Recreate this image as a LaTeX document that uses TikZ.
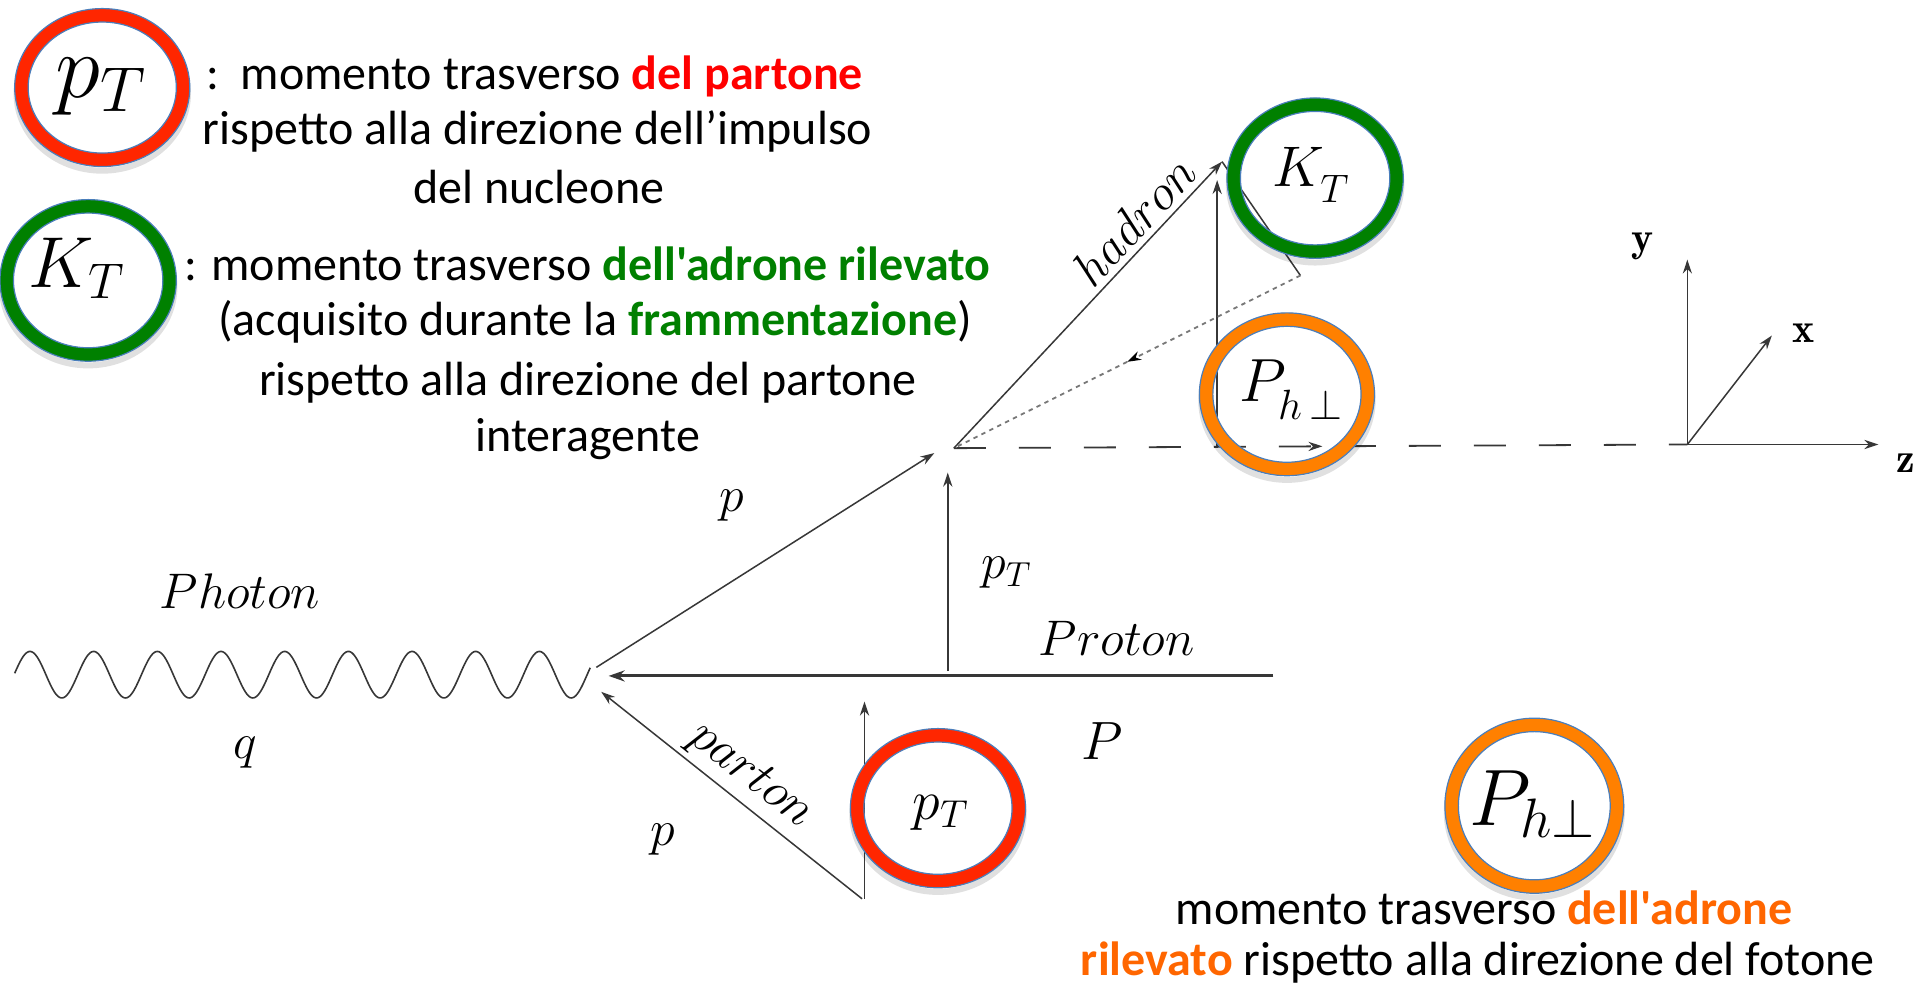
\documentclass[tikz,border=0pt]{standalone}
\usepackage{graphicx}
\usepackage{fontspec}
\newfontfamily\calib{Carlito}
\usetikzlibrary{arrows.meta,decorations.markings}
\definecolor{linecol}{RGB}{55,55,55}
\definecolor{ringred}{RGB}{255,38,0}
\definecolor{ringgreen}{RGB}{0,128,0}
\definecolor{ringorange}{RGB}{255,128,0}
\definecolor{txtred}{RGB}{255,0,0}
\definecolor{txtgreen}{RGB}{0,128,0}
\definecolor{txtorange}{RGB}{255,102,0}
\definecolor{ringblue}{RGB}{74,126,187}
\definecolor{dotcol}{RGB}{120,120,120}
\tikzset{
  ln/.style={draw=linecol, line width=0.75pt},
  arr/.style={ln, -{Stealth[length=7pt,width=4.6pt]}},
  thickarr/.style={draw=linecol, line width=1.5pt, -{Stealth[length=8pt,width=5.5pt]}},
  wave/.style={draw=linecol, line width=0.8pt},
  dashedline/.style={draw=linecol, line width=0.9pt, dash pattern=on 16pt off 16.5pt},
  dotline/.style={draw=dotcol, line width=0.9pt, dash pattern=on 2.2pt off 2.2pt},
  txt/.style={inner sep=0pt, font=\calib\fontsize{24}{28}\selectfont},
  lab/.style={inner sep=0pt},
  ringblueline/.style={draw=ringblue, line width=0.6pt},
  ringshadow/.style={draw=black, opacity=0.12, line width=3pt},
}
\newcommand\mm[2]{\scalebox{#1}{\fontsize{20.74}{24}\selectfont$#2$}}
\newcommand\lsub[1]{_{\lower3pt\hbox{$\scriptstyle #1$}}}
\newcommand\myring[4]{%
  \draw[ringshadow] ([yshift=-3pt]#1) ellipse [x radius=#2-1.5, y radius=#3-1.5];
  \draw[line width=6.73pt, draw=#4] (#1) ellipse [x radius=#2-5.5, y radius=#3-5.5];
  \draw[ringblueline] (#1) ellipse [x radius=#2, y radius=#3];
  \draw[ringblueline] (#1) ellipse [x radius=#2-11, y radius=#3-11];
}
\begin{document}
\begin{tikzpicture}[x=0.61225pt, y=-0.61225pt]
\useasboundingbox (0,0) rectangle (1568,807.7);
\fill[white] (0,0) rectangle (1568,807.7);

% key points
\coordinate (V) at (487,550);
\coordinate (PRs) at (1040,552);
\coordinate (PRe) at (497,552);
\coordinate (PAs) at (704,734);
\coordinate (PAe) at (491,565);
\coordinate (PTs) at (706,734);
\coordinate (PTe) at (706,573);
\coordinate (Ps) at (487,545);
\coordinate (Pe) at (763,370);
\coordinate (U) at (779,366);
\coordinate (VTs) at (774,548);
\coordinate (VTe) at (774,386);
\coordinate (Ht) at (998,132);
\coordinate (KTb) at (994,366);
\coordinate (KTt) at (994,147);
\coordinate (D) at (1062,225);
\coordinate (O) at (1378,363);
\coordinate (Ay) at (1378,212);
\coordinate (Az) at (1534,363);
\coordinate (Ax) at (1447,274);

% photon
\draw[wave] plot[domain=12:482, samples=400] (\x, {551 - 19*cos(6.9231*(\x-24.5))});

% proton
\draw[thickarr] (PRs) -- (PRe);
% parton and its transverse part
\draw[arr] (PAs) -- (PAe);
\draw[arr] (PTs) -- (PTe);
% outgoing parton p
\draw[arr] (Ps) -- (Pe);
\draw[arr] (VTs) -- (VTe);
% hadron
\draw[arr] (U) -- (Ht);
\draw[arr] (KTb) -- (KTt);
\draw[ln] (D) -- (Ht);
\draw[dotline, postaction={decorate}, decoration={markings, mark=at position 0.5 with {\arrow[draw=black,fill=black,line width=0.6pt]{Stealth[length=7pt,width=4.6pt]}}}] (D) -- (U);
\draw[dashedline, postaction={decorate}, decoration={markings, mark=at position 0.5025 with {\arrow[line width=0.6pt]{Stealth[length=7pt,width=4.6pt]}}}] (U) -- (O);

% axes
\draw[arr] (O) -- (Ay);
\draw[arr] (O) -- (Az);
\draw[arr] (O) -- (Ax);
\node[lab] (ly) at (1341,201) {\mm{1.01}{\mathbf{y}}};
\node[lab] (lx) at (1473,272) {\mm{1.01}{\mathbf{x}}};
\node[lab] (lz) at (1556,378) {\mm{1.01}{\mathbf{z}}};

% diagram labels
\node[lab] (lphoton) at (196,483) {\mm{1.205}{Photon}};
\node[lab] (lq) at (200,615) {\mm{1.205}{q}};
\node[lab] (lproton) at (912,521) {\mm{1.205}{Proton}};
\node[lab] (lP) at (900,605) {\mm{1.3}{P}};
\node[lab] (lp1) at (598,413) {\mm{1.205}{p}};
\node[lab] (lpt) at (822,468) {\mm{1.205}{p_T}};
\node[lab] (lp2) at (541,686) {\mm{1.205}{p}};
\node[lab, rotate=-38] (lparton) at (613,634) {\mm{1.205}{parton}};
\node[lab, rotate=47] (lhadron) at (926,180) {\mm{1.205}{hadron}};

% rings
\coordinate (c1) at (83.5,71.5);
\coordinate (c2) at (72,229);
\coordinate (c3) at (1074,145.5);
\coordinate (c4) at (1051,322);
\coordinate (c5) at (766,660);
\coordinate (c6) at (1253,658);
\myring{c1}{71.5}{64.5}{ringred}
\myring{c2}{72}{66}{ringgreen}
\myring{c3}{72}{65.5}{ringgreen}
\myring{c4}{71.5}{66.5}{ringorange}
\myring{c5}{71.5}{65}{ringred}
\myring{c6}{73}{71.5}{ringorange}

\node[lab, anchor=base west] (t1) at (45,80) {\mm{2.2}{p_T}};
\node[lab, anchor=base west] (t2) at (23,235) {\mm{1.74}{K_T}};
\node[lab, anchor=base west] (t3) at (1039,152) {\mm{1.38}{K\lsub{T}}};
\node[lab, anchor=base west] (t4) at (1012,328) {\mm{1.47}{P\lsub{h\,\perp}}};
\node[lab, anchor=base west] (t5) at (745,669) {\mm{1.35}{p_T}};
\node[lab] (t6) at (1252,657) {\mm{1.929}{P_{h\perp}}};

% explanatory texts
\node[txt, anchor=base west] (l1) at (168,73) {:\ \ momento trasverso {\bfseries\color{txtred}del partone}};
\node[txt, anchor=base] (l2) at (439,118) {rispetto alla direzione dell’impulso};
\node[txt, anchor=base] (l3) at (440,166) {del nucleone};
\node[txt, anchor=base west] (l4) at (150,229) {: momento trasverso {\bfseries\color{txtgreen}dell'adrone rilevato}};
\node[txt, anchor=base] (l5) at (486,274) {(acquisito durante la {\bfseries\color{txtgreen}frammentazione})};
\node[txt, anchor=base] (l6) at (480,323) {rispetto alla direzione del partone};
\node[txt, anchor=base] (l7) at (480,369) {interagente};
\node[txt, anchor=base] (l8) at (1212,755) {momento trasverso {\bfseries\color{txtorange}dell'adrone}};
\node[txt, anchor=base] (l9) at (1207,797) {{\bfseries\color{txtorange}rilevato} rispetto alla direzione del fotone};
\end{tikzpicture}
\end{document}
